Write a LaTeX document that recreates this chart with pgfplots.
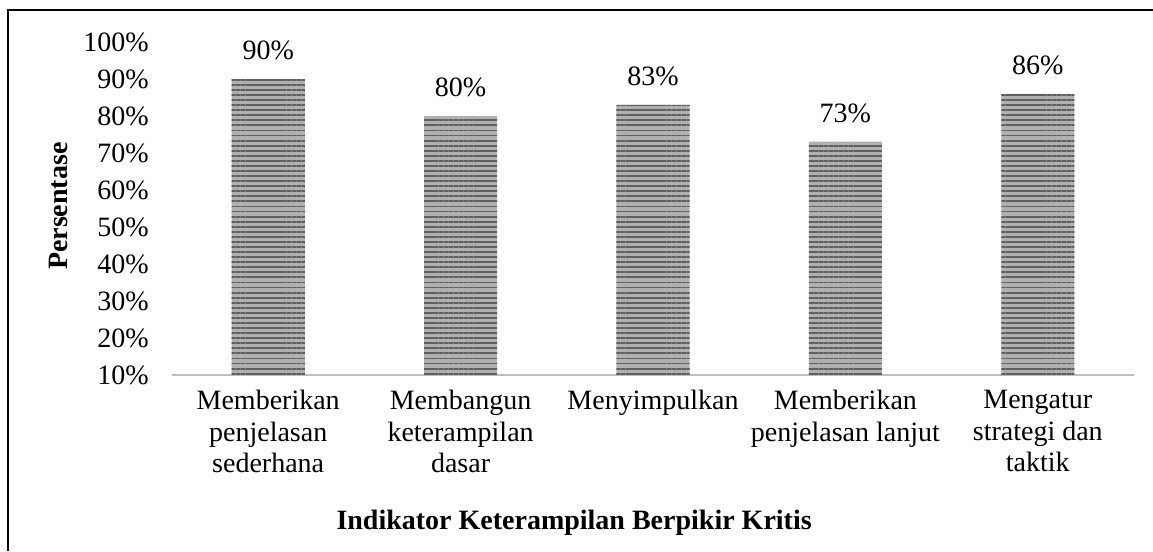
\documentclass[border=0pt]{standalone}
\usepackage{pgfplots}
\pgfplotsset{compat=1.18}
\usepackage{fontspec}
\setmainfont{Liberation Serif}
\usetikzlibrary{patterns.meta}
\definecolor{axisgray}{HTML}{BFBFBF}
\definecolor{barfill}{HTML}{B0B0B0}
\definecolor{stripe}{HTML}{606060}
\pgfplotstableread{
x y
0 90
1 80
2 83
3 73
4 86
}\datatable
\begin{document}
\begin{tikzpicture}[x=0.75pt,y=0.75pt]
\useasboundingbox (0,0) rectangle (1153,551);
\draw[black, line width=1.6pt] (8,0) -- (8,541) -- (1153,541);
\begin{axis}[
  at={(129pt,132pt)}, anchor=south west,
  scale only axis,
  width=721.5pt, height=249.75pt,
  ymin=10, ymax=100,
  xmin=-0.5, xmax=4.5,
  ytick={10,20,...,100},
  xtick=data,
  xticklabels={{Memberikan\\penjelasan\\sederhana},{Membangun\\keterampilan\\dasar},{Menyimpulkan},{Memberikan\\penjelasan lanjut},{Mengatur\\strategi dan\\taktik}},
  xticklabel style={align=center, font=\fontsize{21}{23.5}\selectfont, yshift=-8pt},
  yticklabel={\pgfmathprintnumber{\tick}\%},
  yticklabel style={font=\fontsize{21}{23.5}\selectfont, xshift=-14pt},
  /pgf/number format/assume math mode=true,
  axis x line=bottom,
  axis y line=left,
  x axis line style={axisgray, line width=2.2pt, -},
  y axis line style={draw=none},
  major tick length=0pt,
  tick style={draw=none},
  ybar,
  bar width=0.38,
  nodes near coords={\pgfmathprintnumber{\pgfplotspointmeta}\%},
  nodes near coords style={font=\fontsize{21}{23.5}\selectfont, yshift=11pt},
  xlabel={Indikator Keterampilan Berpikir Kritis},
  xlabel style={font=\fontsize{21}{23.5}\selectfont\bfseries, at={(axis description cs:0.418,-0.445)}, anchor=center},
  ylabel={Persentase},
  ylabel style={font=\fontsize{21}{23.5}\selectfont\bfseries, at={(axis description cs:-0.1185,0.507)}, anchor=center, rotate=0},
  clip=false,
]
\addplot[draw=none, fill=barfill, postaction={pattern={Lines[angle=0,distance=3.8pt,line width=1.4pt]}, pattern color=stripe}] table[x=x,y=y] {\datatable};
\end{axis}
\end{tikzpicture}
\end{document}
